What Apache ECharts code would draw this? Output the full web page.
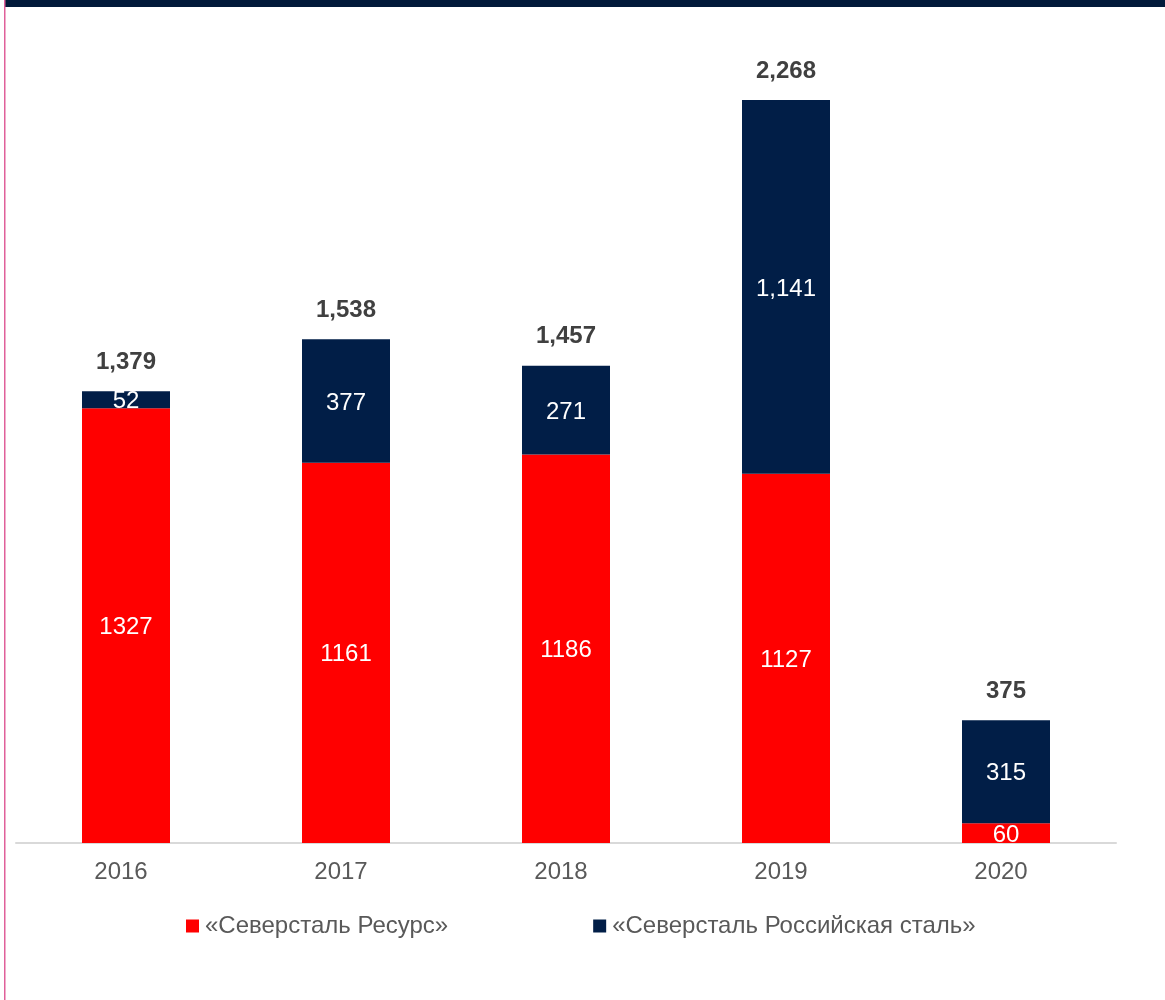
<!DOCTYPE html>
<html>
<head>
<meta charset="utf-8">
<script src="https://cdn.jsdelivr.net/npm/echarts@6/dist/echarts.min.js"></script>
<style>
  html, body { margin: 0; padding: 0; background: #ffffff; }
  #chart { width: 1165px; height: 1000px; }
</style>
</head>
<body>
<div id="chart"></div>
<script>
// Years on the category axis
const years = ['2016', '2017', '2018', '2019', '2020'];
// Series names
const seriesNames = ['«Северсталь Ресурс»', '«Северсталь Российская сталь»'];
// Segment values per year
const resursValues = [1327, 1161, 1186, 1127, 60];
const rossSteelValues = [52, 377, 271, 1141, 315];
// Stack totals shown above each bar
const totals = resursValues.map((v, i) => v + rossSteelValues[i]);

const RED = '#FF0000';
const NAVY = '#011E47';
const FONT = '"Liberation Sans", Arial, sans-serif';

const fmt = n => n.toLocaleString('en-US');

const chart = echarts.init(document.getElementById('chart'));
chart.setOption({
  animation: false,
  textStyle: { fontFamily: FONT },
  graphic: [
    { type: 'rect', shape: { x: 4, y: 0, width: 1161, height: 7 }, style: { fill: '#011A3A' }, z: 10 },
    { type: 'rect', shape: { x: 4, y: 0, width: 1.5, height: 1000 }, style: { fill: '#E0609A' }, z: 10 }
  ],
  grid: { left: 16, right: 49, top: 24, bottom: 157 },
  legend: {
    data: seriesNames,
    left: 181,
    top: 909,
    itemWidth: 13,
    itemHeight: 13,
    itemGap: 145,
    icon: 'rect',
    textStyle: { color: '#595959', fontSize: 24, fontFamily: FONT, padding: [0, 0, 0, 1] }
  },
  xAxis: {
    type: 'category',
    data: years,
    axisLine: { lineStyle: { color: '#D9D9D9', width: 2 } },
    axisTick: { show: false },
    axisLabel: { color: '#595959', fontSize: 24, margin: 17, padding: [0, 10, 0, 0], fontFamily: FONT }
  },
  yAxis: {
    type: 'value',
    min: 0,
    max: 2500,
    show: false,
    splitLine: { show: false }
  },
  series: [
    {
      name: seriesNames[0],
      type: 'bar',
      stack: 'total',
      barWidth: 88,
      data: resursValues,
      itemStyle: { color: RED },
      label: {
        show: true,
        position: 'inside',
        offset: [0, 2],
        color: '#ffffff',
        fontSize: 24,
        fontFamily: FONT,
        formatter: p => String(p.value)
      }
    },
    {
      name: seriesNames[1],
      type: 'bar',
      stack: 'total',
      barWidth: 88,
      data: rossSteelValues,
      itemStyle: { color: NAVY },
      label: {
        show: true,
        position: 'inside',
        offset: [0, 2],
        color: '#ffffff',
        fontSize: 24,
        fontFamily: FONT,
        formatter: p => fmt(p.value)
      }
    },
    {
      // zero-height cap carrying the stack total
      name: 'total',
      type: 'bar',
      stack: 'total',
      barWidth: 88,
      data: totals.map(() => 0),
      itemStyle: { color: 'transparent' },
      silent: true,
      label: {
        show: true,
        position: 'top',
        distance: 17,
        color: '#404040',
        fontSize: 24,
        fontWeight: 'bold',
        fontFamily: FONT,
        formatter: p => fmt(totals[p.dataIndex])
      }
    }
  ]
});
</script>
</body>
</html>
